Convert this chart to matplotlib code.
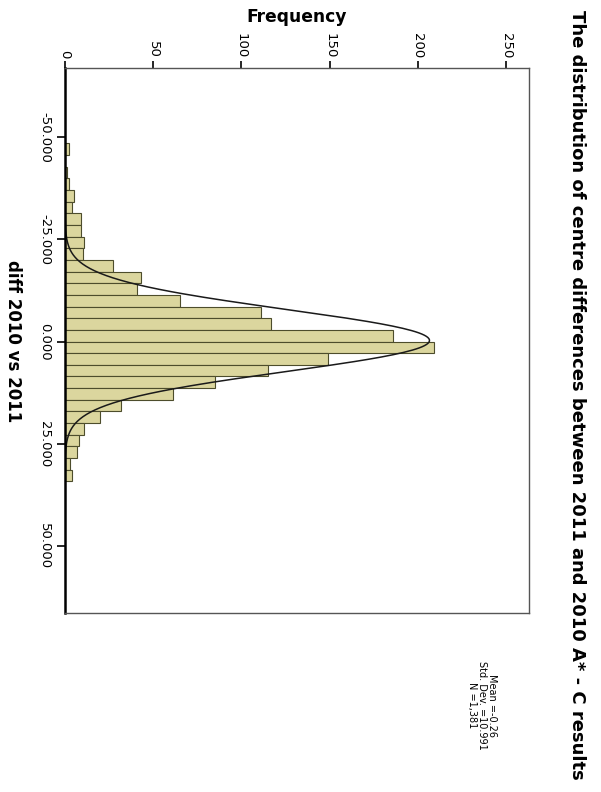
import numpy as np
import matplotlib
matplotlib.use("Agg")
import matplotlib.pyplot as plt

# histogram of centre differences (chart is drawn turned on its side, like the scan)
bin_width = 2.85
first_edge = -48.45
counts = [2, 0, 1, 2, 5, 4, 9, 9, 11, 10, 27, 43, 41, 65, 111, 117, 186,
          209, 149, 115, 85, 61, 32, 20, 11, 8, 7, 3, 4]

freq_ticks = [0, 50, 100, 150, 200, 250]
value_ticks = [-50, -25, 0, 25, 50]
value_labels = ["-50.000", "-25.000", "0.000", "25.000", "50.000"]

mean = -0.26
n_total = 1381
curve_sd = 7.6  # width of the drawn normal curve, fitted to the picture

title = "The distribution of centre differences between 2011 and 2010 A* - C results"
stats = "Mean =-0.26\nStd. Dev. =10.991\nN =1,381"

fig = plt.figure(figsize=(6.01, 7.92), dpi=100)
ax = fig.add_axes([65 / 601, 179 / 792, 464 / 601, 545 / 792])

centres = first_edge + bin_width * (np.arange(len(counts)) + 0.5)
ax.barh(centres, counts, height=bin_width, color="#dbd69e",
        edgecolor="#4d4d2c", linewidth=0.8)

# normal curve
yy = np.linspace(-56, 56, 400)
curve = n_total * bin_width / (curve_sd * np.sqrt(2 * np.pi)) * np.exp(-0.5 * ((yy - mean) / curve_sd) ** 2)
ax.plot(curve, yy, color="#1a1a1a", linewidth=1.1)

ax.set_xlim(0, 263)
ax.set_ylim(66.4, -66.9)

ax.xaxis.tick_top()
ax.set_xticks(freq_ticks)
ax.set_xticklabels([str(t) for t in freq_ticks])
ax.set_yticks(value_ticks)
ax.set_yticklabels(value_labels)
ax.tick_params(axis="x", direction="out", length=5, width=1.2, pad=2, labelsize=9.5)
ax.tick_params(axis="y", direction="out", length=6, width=1.2, pad=4, labelsize=9.5)
plt.setp(ax.get_xticklabels(), rotation=-90, ha="center", va="bottom")
plt.setp(ax.get_yticklabels(), rotation=-90, ha="right", va="center")

ax.spines["left"].set_linewidth(1.8)
ax.spines["left"].set_color("black")
for s in ["top", "right", "bottom"]:
    ax.spines[s].set_color("#555555")
    ax.spines[s].set_linewidth(1.0)

fig.text(297 / 601, 1 - 17 / 792, "Frequency", ha="center", va="center",
         fontsize=12.3, fontweight="bold")
fig.text(577 / 601, 1 - 395 / 792, title, rotation=-90, ha="center", va="center",
         fontsize=13, fontweight="bold")
fig.text(13 / 601, 1 - 341 / 792, "diff 2010 vs 2011", rotation=-90,
         ha="center", va="center", fontsize=12, fontweight="bold")
fig.text(482 / 601, 1 - 705 / 792, stats, rotation=-90, ha="center",
         va="center", multialignment="center", fontsize=7, linespacing=1.0)

fig.savefig("out.png", dpi=100)
